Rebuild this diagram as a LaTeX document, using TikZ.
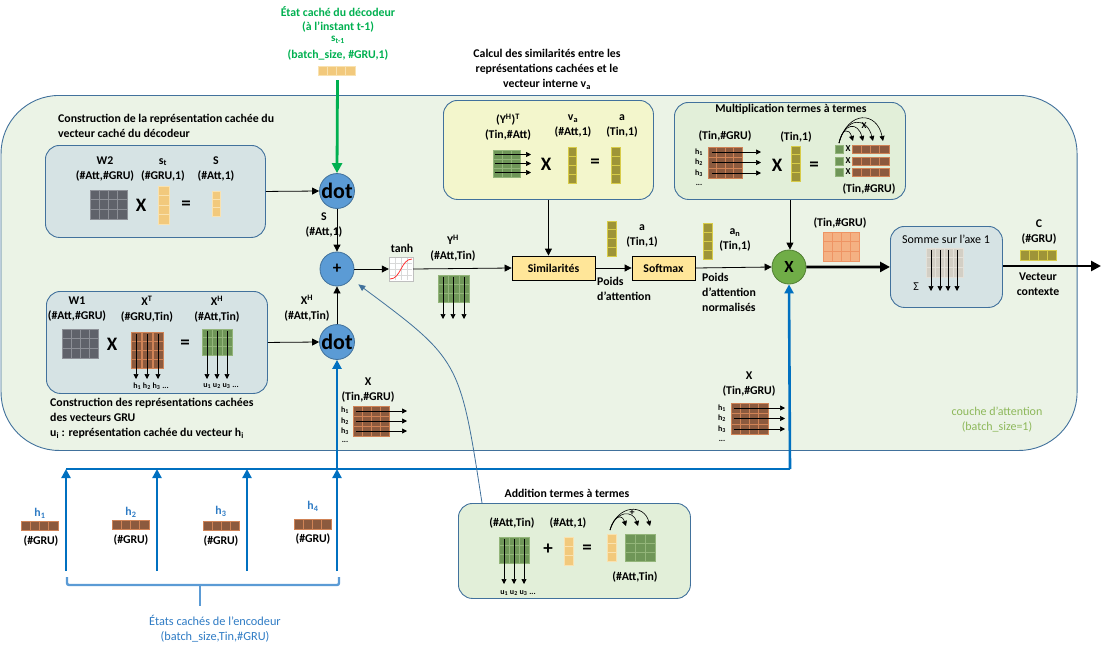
\documentclass[tikz,border=0pt]{standalone}
\usepackage{fontspec}
\setmainfont{Carlito}
\usetikzlibrary{arrows.meta,calc}
\definecolor{bgmain}{HTML}{EBF3E6}
\definecolor{bordblue}{HTML}{41719C}
\definecolor{boxgray}{HTML}{D6E3E4}
\definecolor{boxyel}{HTML}{F3F6CC}
\definecolor{boxgrn}{HTML}{E2EFD9}
\definecolor{nodeblue}{HTML}{5B9BD5}
\definecolor{nodegreen}{HTML}{70AD47}
\definecolor{nodegreenb}{HTML}{507E32}
\definecolor{arrgreen}{HTML}{00B050}
\definecolor{busblue}{HTML}{0070C0}
\definecolor{bracecol}{HTML}{5B9BD5}
\definecolor{txtblue}{HTML}{2E7BC4}
\definecolor{txtgreen}{HTML}{00B050}
\definecolor{txtlgreen}{HTML}{8DB85A}
\definecolor{simfill}{HTML}{FFE699}
\definecolor{mgray}{HTML}{5F626A}
\definecolor{mgrayb}{HTML}{8C8F96}
\definecolor{mtan}{HTML}{F2C97C}
\definecolor{mtanb}{HTML}{F9E2B0}
\definecolor{mbrown}{HTML}{8C5A3E}
\definecolor{mbrownb}{HTML}{D08356}
\definecolor{mgreen}{HTML}{6F9658}
\definecolor{mgreenb}{HTML}{93B57A}
\definecolor{molive}{HTML}{9E9438}
\definecolor{moliveb}{HTML}{D8CC48}
\definecolor{msalmon}{HTML}{F4B183}
\definecolor{msalmonb}{HTML}{EE9464}
\definecolor{mfade}{HTML}{D3CFC5}
\definecolor{mfadeb}{HTML}{E3E0D8}
\newcommand{\cellgrid}[7]{%
  \foreach \rr in {1,...,#5}{\foreach \cc in {1,...,#6}{%
    \path[#7] ({#1+(\cc-1)*(#3-#1)/#6},{#2+(\rr-1)*(#4-#2)/#5}) rectangle ({#1+\cc*(#3-#1)/#6},{#2+\rr*(#4-#2)/#5});
  }}}
\newcommand{\hsub}[1]{\textsubscript{#1}}
\newcommand{\hsup}[1]{\textsuperscript{#1}}
\begin{document}
\begin{tikzpicture}[x=1pt,y=-1pt,
 lbl/.style={font=\fontsize{11.8}{15}\selectfont\bfseries, align=center, inner sep=0pt},
 lbll/.style={lbl, align=left, anchor=west},
 sml/.style={font=\fontsize{8}{9}\selectfont\bfseries, inner sep=0pt},
 big/.style={font=\fontsize{19}{19}\selectfont\bfseries, inner sep=0pt},
 panel/.style={draw=bordblue, line width=0.9pt, rounded corners=14pt, inner sep=0pt},
 opnode/.style={circle, minimum size=34pt, inner sep=0pt, draw=bordblue, fill=nodeblue, line width=0.8pt, font=\fontsize{22}{22}\selectfont\bfseries},
 procbox/.style={draw=black, fill=simfill, line width=0.8pt, minimum height=24pt, inner sep=0pt, font=\fontsize{11.8}{13}\selectfont\bfseries},
 arr/.style={-{Triangle[length=7pt,width=7pt]}, line width=0.8pt},
 sarr/.style={-{Triangle[length=5pt,width=5pt]}, line width=0.7pt},
 thk/.style={-{Triangle[length=10pt,width=10pt]}, line width=2.8pt},
 bus/.style={draw=busblue, line width=2.6pt},
 busarr/.style={bus, -{Triangle[length=9pt,width=9pt]}},
 mgr/.style={fill=mgray, draw=mgrayb, line width=0.6pt},
 mtn/.style={fill=mtan, draw=mtanb, line width=0.6pt},
 mbr/.style={fill=mbrown, draw=mbrownb, line width=0.6pt},
 mgn/.style={fill=mgreen, draw=mgreenb, line width=0.6pt},
 mol/.style={fill=molive, draw=moliveb, line width=0.6pt},
 msa/.style={fill=msalmon, draw=msalmonb, line width=0.6pt},
 mfd/.style={fill=mfade, draw=mfadeb, line width=0.6pt},
]
\useasboundingbox (0,0) rectangle (1109,651);

% main layer
\node[panel, rounded corners=58pt, fill=bgmain, minimum width=1076pt, minimum height=355pt, anchor=north west] (main) at (0.6,95) {};

% ---------- top green input ----------
\node[lbl, text=txtgreen] (dec1) at (338,12) {État caché du décodeur};
\node[lbl, text=txtgreen] (dec2) at (338,27) {(à l’instant t-1)};
\node[lbl, text=txtgreen, font=\fontsize{11}{12}\selectfont\bfseries] (dec3) at (338,40) {s\hsub{t-1}};
\node[lbl, text=txtgreen] (dec4) at (338,55) {(batch\_size, \#GRU,1)};
\node[minimum width=37pt, minimum height=9pt, inner sep=0pt] (stbar) at (336.5,70.5) {};
\cellgrid{318}{66}{355}{75}{1}{4}{mtn}

% ---------- Calcul text ----------
\node[lbl] (calc) at (547,69) {Calcul des similarités entre les\\représentations cachées et le\\vecteur interne v\hsub{a}};

% ---------- top-left ----------
\node[lbll] (tltxt) at (58,125.5) {Construction de la représentation cachée du\\vecteur caché du décodeur};
\node[panel, fill=boxgray, minimum width=220pt, minimum height=92pt, anchor=north west] (pw2) at (45,145) {};
\node[lbl] (w2l) at (105,169.5) {W2\\(\#Att,\#GRU)};
\node[lbl] (stl) at (163,169.5) {s\hsub{t}\\(\#GRU,1)};
\node[lbl] (sl) at (216,169.5) {S\\(\#Att,1)};
\cellgrid{90}{190}{127}{219}{3}{4}{mgr}
\node[big] (x1) at (141,205) {X};
\cellgrid{158}{186}{169}{224}{4}{1}{mtn}
\node[big] (eq1) at (186,205) {=};
\cellgrid{212}{191}{220}{216}{3}{1}{mtn}

% ---------- bottom-left ----------
\node[panel, fill=boxgray, minimum width=221pt, minimum height=102pt, anchor=north west] (pw1) at (46,291) {};
\node[lbl] (w1l) at (77,309) {W1\\(\#Att,\#GRU)};
\node[lbl] (xtl) at (147,309) {X\hsup{T}\\(\#GRU,Tin)};
\node[lbl] (xhl) at (217,309) {X\hsup{H}\\(\#Att,Tin)};
\cellgrid{62}{329}{98}{358}{3}{4}{mgr}
\node[big] (x2) at (112,344) {X};
\cellgrid{131}{332}{141}{368}{4}{1}{mbr}
\cellgrid{142}{332}{152}{368}{4}{1}{mbr}
\cellgrid{153}{332}{163}{368}{4}{1}{mbr}
\foreach \xx in {136,147,158}{\draw[sarr] (\xx,334) -- (\xx,379);}
\node[sml] (hlab1) at (151,386) {h\hsub{1} h\hsub{2} h\hsub{3} ...};
\node[big] (eq2) at (185,344) {=};
\cellgrid{202}{329}{212}{355}{3}{1}{mgn}
\cellgrid{212}{329}{222}{355}{3}{1}{mgn}
\cellgrid{222}{329}{232}{355}{3}{1}{mgn}
\foreach \xx in {207,217,227}{\draw[sarr] (\xx,331) -- (\xx,379);}
\node[sml] (ulab1) at (221,386) {u\hsub{1} u\hsub{2} u\hsub{3} ...};
\node[lbll, anchor=north west] (bltxt) at (50,398) {Construction des représentations cachées\\des vecteurs GRU\\u\hsub{i} : représentation cachée du vecteur h\hsub{i}};

% ---------- op nodes ----------
\node[opnode] (dot1) at (337,191) {dot};
\node[opnode, font=\fontsize{17}{17}\selectfont\bfseries] (plus) at (337,269) {+};
\node[opnode] (dot2) at (337,342) {dot};
\node[opnode, draw=nodegreenb, fill=nodegreen, font=\fontsize{17}{17}\selectfont\bfseries] (xnode) at (789,267) {X};

\node[lbl] (sl2) at (324,225) {S\\(\#Att,1)};
\node[lbl] (xhl2) at (307,308) {X\hsup{H}\\(\#Att,Tin)};

% X matrix near dot2
\node[lbl] (xm1) at (368,390) {X\\(Tin,\#GRU)};
\cellgrid{353}{406}{389}{416}{1}{4}{mbr}
\cellgrid{353}{416}{389}{426}{1}{4}{mbr}
\cellgrid{353}{426}{389}{436}{1}{4}{mbr}
\node[sml] (xm1h1) at (345,410) {h\hsub{1}};
\node[sml] (xm1h2) at (345,421) {h\hsub{2}};
\node[sml] (xm1h3) at (345,431) {h\hsub{3}};
\node[sml] (xm1d) at (345,442) {...};
\foreach \yy in {411,421,431}{\draw[sarr] (356,\yy) -- (407,\yy);}

% ---------- yellow similarity panel ----------
\node[panel, fill=boxyel, minimum width=210pt, minimum height=99pt, anchor=north west] (ypanel) at (443,100) {};
\node[lbl] (yht) at (508,127.5) {(Y\hsup{H})\hsup{T}\\(Tin,\#Att)};
\node[lbl] (val) at (573,126) {v\hsub{a}\\(\#Att,1)};
\node[lbl] (al) at (622,126) {a\\(Tin,1)};
\cellgrid{493}{150}{520}{159}{1}{3}{mgn}
\cellgrid{493}{159}{520}{168}{1}{3}{mgn}
\cellgrid{493}{168}{520}{177}{1}{3}{mgn}
\foreach \yy in {154.5,163.5,172.5}{\draw[sarr] (495,\yy) -- (531,\yy);}
\node[big] (x3) at (546,164) {X};
\cellgrid{568}{147}{576}{183}{4}{1}{mol}
\node[big] (eq3) at (595,163) {=};
\cellgrid{611}{147}{620}{183}{4}{1}{mol}

% ---------- middle row ----------
\node[draw=black!25, fill=white, minimum size=24pt, inner sep=0pt] (tanh) at (401,269) {};
\foreach \xx in {395,401,407}{\draw[black!15, line width=0.4pt] (\xx,258) -- (\xx,280);}
\foreach \yy in {263,269,275}{\draw[black!15, line width=0.4pt] (390,\yy) -- (412,\yy);}
\draw[red!80, line width=0.8pt] (390,279) .. controls (401,279) and (401,259) .. (412,259);
\node[lbl] (tanhl) at (402,248) {tanh};
\node[lbl] (yhl) at (453,248) {Y\hsup{H}\\(\#Att,Tin)};
\cellgrid{438}{275}{448}{302}{3}{1}{mgn}
\cellgrid{448}{275}{459}{302}{3}{1}{mgn}
\cellgrid{459}{275}{469}{302}{3}{1}{mgn}
\foreach \xx in {443,453,464}{\draw[sarr] (\xx,277) -- (\xx,319);}

\node[procbox, minimum width=83pt] (sim) at (553.5,268) {Similarités};
\node[procbox, minimum width=63pt] (soft) at (663.5,268) {Softmax};
\cellgrid{607}{221}{616}{256}{4}{1}{mol}
\node[lbl] (a2l) at (642,235.5) {a\\(Tin,1)};
\node[lbll] (poids1) at (597,288.5) {Poids\\d’attention};
\cellgrid{703}{223}{712}{259}{4}{1}{mol}
\node[lbl] (anl) at (735,240) {a\hsub{n}\\(Tin,1)};
\node[lbll] (poids2) at (702,292.5) {Poids\\d’attention\\normalisés};

% ---------- multiplication panel ----------
\node[panel, fill=boxgrn, minimum width=231pt, minimum height=97pt, anchor=north west] (mpanel) at (674,102) {};
\node[lbl] (multl) at (791,109) {Multiplication termes à termes};
\node[lbl] (mtg1) at (725,136) {(Tin,\#GRU)};
\cellgrid{708}{147}{742}{157.5}{1}{4}{mbr}
\cellgrid{708}{157.5}{742}{168}{1}{4}{mbr}
\cellgrid{708}{168}{742}{178}{1}{4}{mbr}
\node[sml] (mh1) at (699,152) {h\hsub{1}};
\node[sml] (mh2) at (699,162) {h\hsub{2}};
\node[sml] (mh3) at (699,173) {h\hsub{3}};
\node[sml] (mhd) at (699,185) {...};
\foreach \yy in {152,162.5,173}{\draw[sarr] (712,\yy) -- (761,\yy);}
\node[lbl] (mt1) at (796,137) {(Tin,1)};
\node[big] (x4) at (777,165) {X};
\cellgrid{791}{146}{800}{181}{4}{1}{mol}
\node[big] (eq4) at (814,166) {=};
\foreach \yy in {145,157,168}{%
  \path[mgn] (835,\yy) rectangle (843,\yy+8);
  \node[sml, font=\fontsize{9}{9}\selectfont\bfseries] at (848,\yy+4) {X};
  \cellgrid{852}{\yy}{889}{\yy+8}{1}{4}{mbr}
}
\draw[sarr, line width=0.6pt] (839,143) .. controls (842,128) and (849,128) .. (853,141);
\draw[sarr, line width=0.6pt] (839,143) .. controls (844,122) and (858,122) .. (863,141);
\draw[sarr, line width=0.6pt] (839,143) .. controls (846,116) and (867,117) .. (873,141);
\draw[sarr, line width=0.6pt] (839,143) .. controls (848,110) and (877,111) .. (883,141);
\node[sml, font=\fontsize{9}{9}\selectfont\bfseries] (mx) at (864,126) {X};
\node[lbl] (mtg2) at (869,189) {(Tin,\#GRU)};

% ---------- right part ----------
\node[lbl] (tg3) at (840,223) {(Tin,\#GRU)};
\cellgrid{823}{232}{859}{261}{3}{4}{msa}
\node[panel, fill=boxgray, minimum width=112pt, minimum height=81pt, anchor=north west] (somme) at (890,226) {};
\node[lbl, font=\fontsize{12}{13}\selectfont] (sommel) at (946,239) {Somme sur l’axe 1};
\cellgrid{926}{248}{963}{277}{3}{4}{mfd}
\foreach \xx in {931,940,948,957}{\draw[sarr] (\xx,250) -- (\xx,291);}
\node[lbl, font=\fontsize{12}{12}\selectfont] (sigma) at (916,287) {Σ};
\node[lbl] (cl) at (1039,232.5) {C\\(\#GRU)};
\cellgrid{1020}{250}{1056}{260}{1}{4}{mol}
\node[lbl] (vcl) at (1038,284.5) {Vecteur\\contexte};
\coordinate (cout) at (1101,266);

% right X matrix
\node[lbl] (xm2) at (749,384) {X\\(Tin,\#GRU)};
\cellgrid{731}{403}{768}{413.5}{1}{4}{mbr}
\cellgrid{731}{413.5}{768}{424}{1}{4}{mbr}
\cellgrid{731}{424}{768}{434}{1}{4}{mbr}
\node[sml] (xm2h1) at (722,408) {h\hsub{1}};
\node[sml] (xm2h2) at (722,418) {h\hsub{2}};
\node[sml] (xm2h3) at (722,429) {h\hsub{3}};
\node[sml] (xm2d) at (722,441) {...};
\foreach \yy in {408,418.5,429}{\draw[sarr] (734,\yy) -- (785,\yy);}

\node[lbl, font=\fontsize{12}{15}\selectfont, text=txtlgreen] (couche) at (997,419.5) {couche d’attention\\(batch\_size=1)};

% ---------- addition panel ----------
\node[lbl] (addl) at (567,493) {Addition termes à termes};
\node[panel, fill=boxgrn, minimum width=232pt, minimum height=95pt, anchor=north west] (apanel) at (458,503) {};
\node[lbl] (at1) at (512,523) {(\#Att,Tin)};
\node[lbl] (at2) at (568,523) {(\#Att,1)};
\cellgrid{499}{537}{509}{563}{3}{1}{mgn}
\cellgrid{509}{537}{519}{563}{3}{1}{mgn}
\cellgrid{519}{537}{529}{563}{3}{1}{mgn}
\foreach \xx in {504,514,524}{\draw[sarr] (\xx,539) -- (\xx,584);}
\node[sml] (ulab2) at (518,593) {u\hsub{1} u\hsub{2} u\hsub{3} ...};
\node[big] (pl2) at (548,549) {+};
\cellgrid{564}{537}{573}{565}{3}{1}{mtn}
\node[big] (eq5) at (587,549) {=};
\cellgrid{607}{534}{616}{561}{3}{1}{mtn}
\cellgrid{625}{534}{635}{561}{3}{1}{mgn}
\cellgrid{635}{534}{645}{561}{3}{1}{mgn}
\cellgrid{645}{534}{655}{561}{3}{1}{mgn}
\draw[sarr, line width=0.6pt] (610,530) .. controls (614,515) and (622,514) .. (626,526);
\draw[sarr, line width=0.6pt] (610,530) .. controls (616,510) and (633,510) .. (638,526);
\draw[sarr, line width=0.6pt] (610,530) .. controls (618,504) and (644,504) .. (650,526);
\node[sml, font=\fontsize{10}{10}\selectfont\bfseries] (apl) at (632,513) {+};
\node[lbl] (at3) at (635,577) {(\#Att,Tin)};

% ---------- encoder states ----------
\node[lbl, text=txtblue] (h1l) at (40,513) {h\hsub{1}};
\node[lbl, text=txtblue] (h2l) at (131,512) {h\hsub{2}};
\node[lbl, text=txtblue] (h3l) at (221,511) {h\hsub{3}};
\node[lbl, text=txtblue] (h4l) at (313,506) {h\hsub{4}};
\cellgrid{21}{521}{58}{530}{1}{4}{mbr}
\cellgrid{112}{520}{149}{529}{1}{4}{mbr}
\cellgrid{203}{521}{239}{530}{1}{4}{mbr}
\cellgrid{294}{519}{331}{529}{1}{4}{mbr}
\node[lbl] (g1) at (41,541) {(\#GRU)};
\node[lbl] (g2) at (131,540) {(\#GRU)};
\node[lbl] (g3) at (221,541) {(\#GRU)};
\node[lbl] (g4) at (313,539) {(\#GRU)};

\coordinate (b1) at (66,469);
\coordinate (b2) at (157,469);
\coordinate (b3) at (247,469);
\coordinate (b4) at (337,469);
\coordinate (b5) at (790,469);
\coordinate (s1) at (66,571);
\coordinate (s2) at (157,571);
\coordinate (s3) at (247,571);
\coordinate (s4) at (337,571);

\draw[bus, line join=miter] (b1) -- (b5);
\draw[busarr, line join=miter] (b5) -- (xnode.south);
\draw[busarr] (b4) -- (dot2.south);
\draw[busarr] (s1) -- (b1);
\draw[busarr] (s2) -- (b2);
\draw[busarr] (s3) -- (b3);
\draw[busarr] (s4) -- (b4);

\draw[bracecol, line width=2.4pt, rounded corners=2pt] (67,577) -- (67,585) -- (339,585) -- (339,577);
\draw[bracecol, line width=2.4pt] (200,585) -- (200,606);
\node[lbl, font=\fontsize{12.3}{15}\selectfont, text=txtblue] (enc) at (215,628.5) {États cachés de l’encodeur\\(batch\_size,Tin,\#GRU)};

% ---------- connectors ----------
\draw[-{Triangle[length=10pt,width=10pt]}, arrgreen, line width=2.8pt] ($(stbar.south)+(1,5)$) -- (dot1.north);
\draw[arr] (pw2.east) -- (dot1.west);
\draw[arr] (pw1.east) -- (dot2.west);
\draw[arr] (dot1.south) -- (plus.north);
\draw[arr] (dot2.north) -- (plus.south);
\draw[arr] (plus.east) -- (tanh.west);
\draw[arr] (tanh.east) -- (sim.west);
\draw[arr] (ypanel.south) -- (ypanel.south |- sim.north);
\draw[arr] (sim.east) -- (soft.west);
\draw[arr] (soft.east) -- (xnode.west);
\draw[arr] (mpanel.south) -- (mpanel.south |- xnode.north);
\draw[thk] (xnode.east) -- (somme.west);
\draw[thk] (somme.east |- cout) -- (cout);
\draw[bordblue, line width=0.8pt, -{Triangle[length=7pt,width=6pt]}] ($(apanel.north west)+(24,0)$) .. controls (460,360) .. ($(plus.south east)+(9,3)$);
\end{tikzpicture}
\end{document}
